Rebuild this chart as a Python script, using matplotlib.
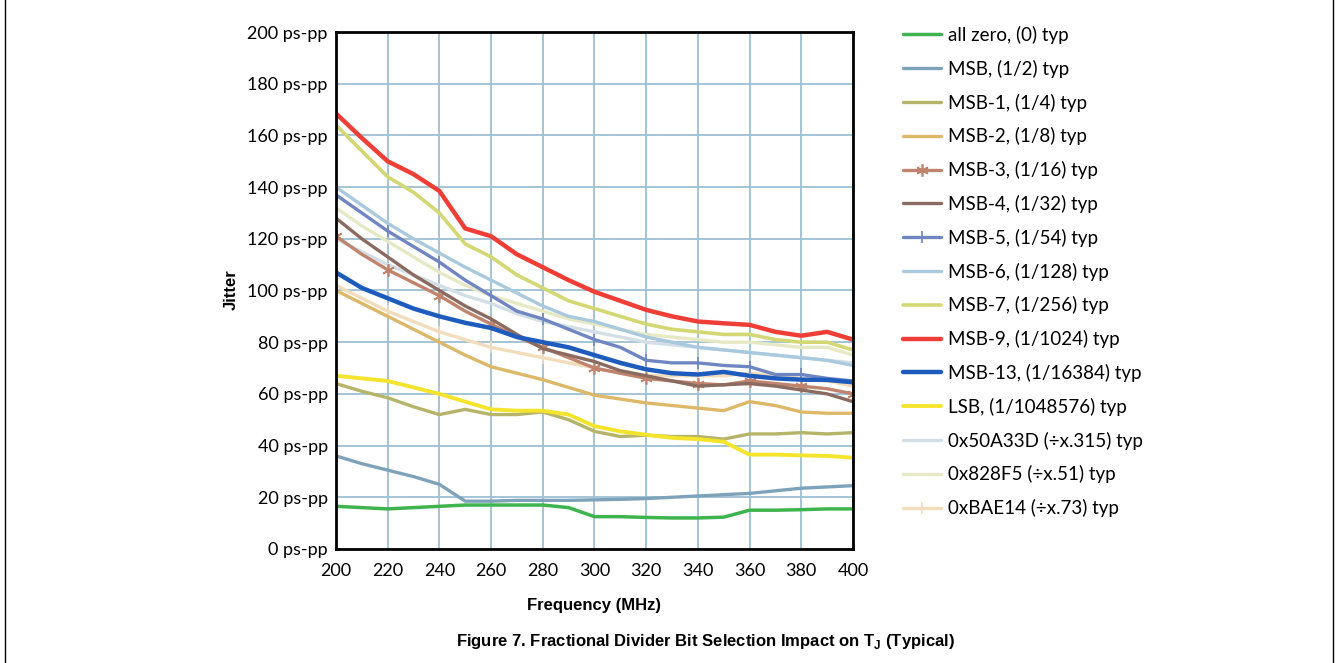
import numpy as np
import matplotlib
matplotlib.use('Agg')
import matplotlib.pyplot as plt
from matplotlib.lines import Line2D

# frequency sweep (MHz)
freq = list(range(200, 401, 10))

all_zero = [16.5, 16, 15.5, 16, 16.5, 17, 17, 17, 17, 16, 12.5, 12.5, 12.2, 12, 12, 12.3, 15, 15, 15.2, 15.5, 15.5]
msb = [36, 33, 30.5, 28, 25, 18.5, 18.5, 18.8, 18.8, 18.8, 19, 19.2, 19.5, 20, 20.5, 21, 21.5, 22.5, 23.5, 24, 24.5]
msb1 = [64, 61, 58.5, 55, 52, 54, 52, 52, 53, 50, 45.5, 43.5, 44, 43.5, 43.5, 42.5, 44.5, 44.5, 45, 44.5, 45]
msb2 = [100, 95, 90, 85, 80, 75, 70.5, 68, 65.5, 62.5, 59.5, 58, 56.5, 55.5, 54.5, 53.5, 57, 55.5, 53, 52.5, 52.5]
msb3 = [121, 114, 108, 103, 98, 92, 87, 82, 78, 74, 70, 68, 66, 65, 64, 63.5, 65, 64, 63, 62, 60]
msb4 = [128, 120, 113, 106, 100, 94, 89, 83, 77.5, 75, 72.5, 69, 67, 65, 63, 63.5, 64, 63, 61.5, 60, 57]
msb5 = [137, 130, 123, 117, 111, 104, 98, 92, 89, 85, 81, 78, 73, 72, 72, 71, 70.5, 67.5, 67.5, 66, 65]
msb6 = [140, 133, 126, 120, 114.5, 109, 104, 99, 94, 90, 88, 85, 82, 80, 78, 77, 76, 75, 74, 73, 71]
msb7 = [164, 154, 144, 138, 130, 118, 113, 106, 101, 96, 93, 90, 87, 85, 84, 83, 83, 81, 80, 80, 77]
msb9 = [168.5, 159, 150, 145, 138.5, 124, 121, 114, 109, 104, 99.5, 96, 92.5, 90, 88, 87.3, 86.7, 84, 82.5, 84, 81]
msb13 = [107, 101, 97, 93, 90, 87.5, 85.5, 82, 80, 78, 75, 72, 69.5, 68, 67.5, 68.5, 67, 66, 65.5, 65.4, 64.5]
lsb = [67, 66, 65, 62.5, 60, 57, 54, 53.5, 53.5, 52, 47.5, 45.5, 44.2, 43, 42.5, 41.5, 36.5, 36.5, 36.2, 36, 35.3]
x50a33d = [120, 115, 110, 106, 102, 98, 95, 91, 88, 86, 84, 82, 80, 79, 78, 77, 76, 75, 74, 73, 72]
x828f5 = [132, 125, 119, 113, 107, 102, 98, 95, 92, 89, 87, 85, 83, 82, 81, 80, 80, 79, 78, 78, 75]
xbae14 = [102, 97, 92, 88, 84, 81, 78, 76, 74, 72, 70, 68, 67, 67, 67, 67, 68, 67, 66, 65, 63]

labels = ['all zero, (0) typ', 'MSB, (1/2) typ', 'MSB-1, (1/4) typ', 'MSB-2, (1/8) typ',
          'MSB-3, (1/16) typ', 'MSB-4, (1/32) typ', 'MSB-5, (1/54) typ', 'MSB-6, (1/128) typ',
          'MSB-7, (1/256) typ', 'MSB-9, (1/1024) typ', 'MSB-13, (1/16384) typ',
          'LSB, (1/1048576) typ', '0x50A33D (÷x.315) typ', '0x828F5 (÷x.51) typ',
          '0xBAE14 (÷x.73) typ']
series = [all_zero, msb, msb1, msb2, msb3, msb4, msb5, msb6, msb7, msb9, msb13, lsb,
          x50a33d, x828f5, xbae14]

colors = ['#3fb44e', '#7fa2bb', '#b5b468', '#ddb868', '#c0846e', '#8b6b60', '#6f86c2',
          '#a9c9de', '#d3d774', '#ef3e36', '#1d5cbd', '#f4e42c', '#d3dee6', '#e6e9c4', '#f1ddbb']
widths = [2.5, 2.4, 2.4, 2.4, 2.4, 2.4, 2.4, 2.4, 2.6, 3.2, 3.2, 2.8, 2.4, 2.4, 2.4]
markers = [None, None, None, None, (6, 2, 0), None, '|', None, None, None, None, None,
           None, None, '|']

fig = plt.figure(figsize=(13.38, 6.63), dpi=100)
ax = fig.add_axes([0.2511, 0.172, 0.3864, 0.7797])

# draw background/light lines first, strong ones on top
order = [12, 13, 14, 1, 0, 2, 3, 11, 4, 5, 7, 6, 8, 10, 9]
handles = [None] * len(series)
for i in order:
    ln, = ax.plot(freq, series[i], color=colors[i], lw=widths[i], label=labels[i],
                  marker=markers[i], markevery=2, markersize=9, markeredgewidth=1.2,
                  solid_capstyle='round', solid_joinstyle='round')
    handles[i] = ln

ax.set_xlim(200, 400)
ax.set_ylim(0, 200)
ax.set_xticks(np.arange(200, 401, 20))
ax.set_yticks(np.arange(0, 201, 20))
ax.set_yticklabels([f'{v} ps-pp' for v in range(0, 201, 20)])
ax.tick_params(length=0, labelsize=13, pad=6)
ax.tick_params(axis='x', pad=10)
for lab in ax.get_xticklabels() + ax.get_yticklabels():
    lab.set_fontfamily('Lato')
ax.grid(True, color='#9dc0d3', lw=1.3)
ax.set_axisbelow(True)
for s in ax.spines.values():
    s.set_linewidth(2)
    s.set_color('black')

fig.text(0.1726, 0.5626, 'Jitter', rotation=90, ha='center', va='center',
         fontsize=12, fontweight='bold', family='Liberation Sans')
fig.text(0.4442, 0.0860, 'Frequency (MHz)', ha='center', va='center',
         fontsize=12, fontweight='bold', family='Liberation Sans')
fig.text(0.5272, 0.032, r'Figure 7. Fractional Divider Bit Selection Impact on T$_\mathregular{J}$ (Typical)',
         ha='center', va='center', fontsize=12, fontweight='bold', family='Liberation Sans')

leg = fig.legend(handles=handles, loc='upper left', bbox_to_anchor=(0.675, 0.961),
                 frameon=False, labelspacing=0.84, handlelength=2.0,
                 handletextpad=0.4, borderpad=0, borderaxespad=0,
                 prop={'family': 'Lato', 'size': 13.5})

# outer frame edges
fig.add_artist(Line2D([0.004, 0.004], [0, 1], color='black', lw=1))
fig.add_artist(Line2D([0.9965, 0.9965], [0, 1], color='black', lw=1))

fig.savefig('out.png', dpi=100)
